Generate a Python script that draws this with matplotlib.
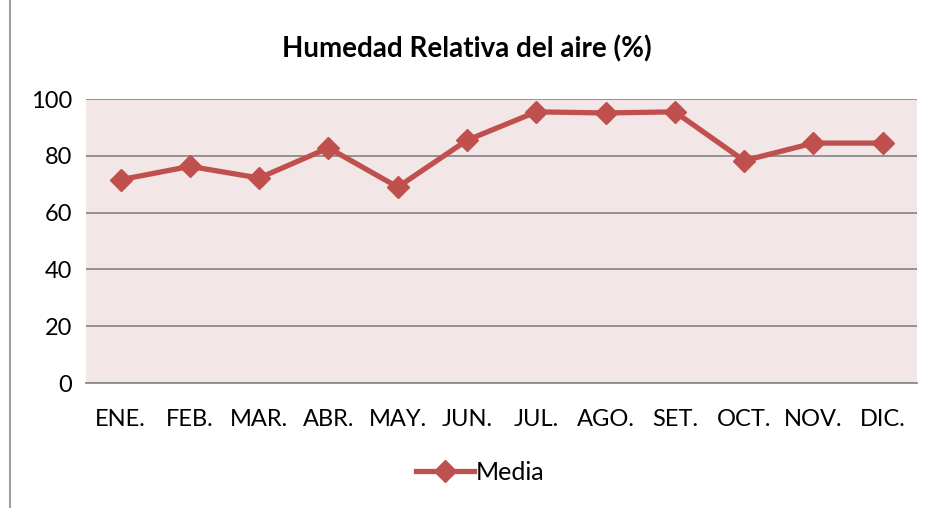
import matplotlib.pyplot as plt
from matplotlib.lines import Line2D

meses = ['ENE.', 'FEB.', 'MAR.', 'ABR.', 'MAY.', 'JUN.', 'JUL.', 'AGO.', 'SET.', 'OCT.', 'NOV.', 'DIC.']
media = [71.6, 76.3, 72.2, 82.8, 69.0, 85.5, 95.5, 95.1, 95.5, 78.3, 84.5, 84.5]
yticks = [0, 20, 40, 60, 80, 100]

plt.rcParams['font.family'] = ['Lato', 'DejaVu Sans']

fig = plt.figure(figsize=(9.33, 5.08), dpi=100)
ax = fig.add_axes([0.0922, 0.246, 0.891, 0.559])
ax.set_facecolor('#F2E6E6')

x = range(len(meses))
ax.plot(x, media, color='#C0504D', lw=3.8, marker='D', ms=11, label='Media')

ax.set_xlim(-0.5, len(meses) - 0.5)
ax.set_ylim(0, 100)
ax.set_yticks(yticks)
ax.set_xticks(list(x))
ax.set_xticklabels(meses)
ax.grid(axis='y', color='#8C8C8C', lw=1.3)
ax.set_axisbelow(True)
for s in ['left', 'right', 'top']:
    ax.spines[s].set_visible(False)
ax.spines['bottom'].set_color('#8C8C8C')
ax.spines['bottom'].set_linewidth(1.3)
ax.tick_params(length=0, labelsize=17, colors='black')
ax.tick_params(axis='x', pad=19)
ax.tick_params(axis='y', pad=10)

fig.suptitle('Humedad Relativa del aire (%)', y=0.93, fontsize=20, fontweight='bold')

fig.legend(handles=[Line2D([0], [0], color='#C0504D', lw=3.8, marker='D', ms=11)],
           labels=['Media'], loc='center', bbox_to_anchor=(0.515, 0.07),
           frameon=False, fontsize=18, handlelength=2.3, handletextpad=0.1)

# chart border on the left
fig.add_artist(Line2D([0.011, 0.011], [0, 1], color='#A0A0A0', lw=1.5))

fig.savefig('out.png', dpi=100)
